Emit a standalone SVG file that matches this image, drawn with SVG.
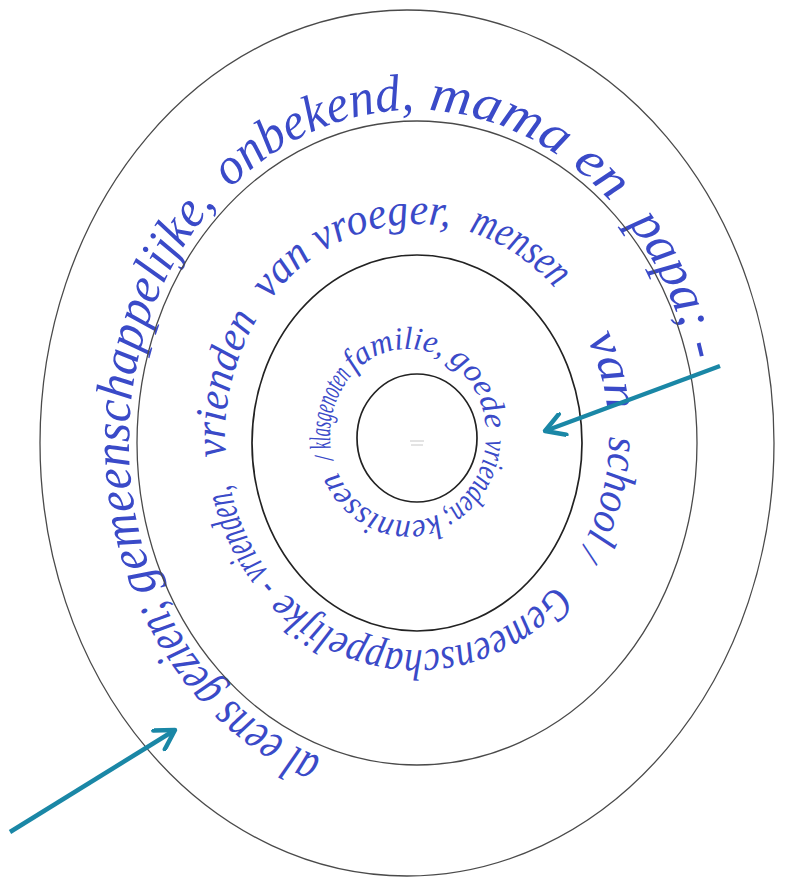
<svg xmlns="http://www.w3.org/2000/svg" xmlns:xlink="http://www.w3.org/1999/xlink" width="790" height="880" viewBox="0 0 790 880">
  <style>
    .ring { fill: none; stroke: #4a4a4a; stroke-width: 1.3; }
    .ring-dark { fill: none; stroke: #222; stroke-width: 1.7; }
    .hw { font-family: "Liberation Serif", "DejaVu Serif", serif; font-style: italic; fill: #3a4ac8; }
    .arrow { stroke: #1a87a6; stroke-width: 4.5; fill: none; }
  </style>
  <defs>
    <path id="pOuter" d="M414,776 A285,333 0 1 1 414,110 A285,333 0 1 1 414,776"/>
    <path id="pMid" d="M564.1,573.9 A192,213 0 1 1 269.9,300.1 A192,213 0 1 1 564.1,573.9"/>
    <path id="pInner" d="M486,435 A78,86 0 1 1 330,435 A78,86 0 1 1 486,435"/>
    <marker id="head" viewBox="0 0 10 10" refX="9" refY="5" markerUnits="userSpaceOnUse" markerWidth="25" markerHeight="25" orient="auto">
      <path d="M1.5,0.6 L9,5 L1.5,9.4" fill="none" stroke="#1a87a6" stroke-width="1.8" stroke-linecap="round" stroke-linejoin="round"/>
    </marker>
  </defs>
  <rect width="790" height="880" fill="#ffffff"/>

  <g id="ring-outer">
    <ellipse class="ring" cx="407" cy="443" rx="367" ry="433"/>
    <text class="hw" font-size="52">
      <textPath xlink:href="#pOuter" startOffset="95" textLength="232" lengthAdjust="spacingAndGlyphs">al eens gezien;</textPath>
    </text>
    <text class="hw" font-size="52">
      <textPath xlink:href="#pOuter" startOffset="336" textLength="410" lengthAdjust="spacingAndGlyphs">gemeenschappelijke,</textPath>
    </text>
    <text class="hw" font-size="52">
      <textPath xlink:href="#pOuter" startOffset="767" textLength="205" lengthAdjust="spacingAndGlyphs">onbekend,</textPath>
    </text>
    <text class="hw" font-size="52">
      <textPath xlink:href="#pOuter" startOffset="986" textLength="210" lengthAdjust="spacingAndGlyphs">mama en</textPath>
    </text>
    <text class="hw" font-size="52">
      <textPath xlink:href="#pOuter" startOffset="1223" textLength="152" lengthAdjust="spacingAndGlyphs">papa; -</textPath>
    </text>
  </g>

  <g id="ring-second">
    <ellipse class="ring" cx="417" cy="443" rx="280" ry="322"/>
    <text class="hw" font-size="44">
      <textPath xlink:href="#pMid" startOffset="14" textLength="306" lengthAdjust="spacingAndGlyphs">Gemeenschappelijke</textPath>
    </text>
    <text class="hw" font-size="42">
      <textPath xlink:href="#pMid" startOffset="330" textLength="112" lengthAdjust="spacingAndGlyphs">- vrienden,</textPath>
    </text>
    <text class="hw" font-size="44">
      <textPath xlink:href="#pMid" startOffset="470" textLength="144" lengthAdjust="spacingAndGlyphs">vrienden</textPath>
    </text>
    <text class="hw" font-size="44">
      <textPath xlink:href="#pMid" startOffset="636" textLength="205" lengthAdjust="spacingAndGlyphs">van vroeger,</textPath>
    </text>
    <text class="hw" font-size="44">
      <textPath xlink:href="#pMid" startOffset="860" textLength="105" lengthAdjust="spacingAndGlyphs">mensen</textPath>
    </text>
    <text class="hw" font-size="48">
      <textPath xlink:href="#pMid" startOffset="1024" textLength="76" lengthAdjust="spacingAndGlyphs">van</textPath>
    </text>
    <text class="hw" font-size="44">
      <textPath xlink:href="#pMid" startOffset="1126" textLength="104" lengthAdjust="spacingAndGlyphs">school</textPath>
    </text>
    <text class="hw" font-size="34">
      <textPath xlink:href="#pMid" startOffset="1238">/</textPath>
    </text>
  </g>

  <g id="ring-third">
    <ellipse class="ring-dark" cx="417" cy="443" rx="165" ry="188"/>
    <text class="hw" font-size="32">
      <textPath xlink:href="#pInner" startOffset="4" textLength="90" lengthAdjust="spacingAndGlyphs">vrienden;</textPath>
    </text>
    <text class="hw" font-size="34">
      <textPath xlink:href="#pInner" startOffset="98" textLength="122" lengthAdjust="spacingAndGlyphs">kennissen</textPath>
    </text>
    <text class="hw" font-size="26">
      <textPath xlink:href="#pInner" startOffset="232">/</textPath>
    </text>
    <text class="hw" font-size="30">
      <textPath xlink:href="#pInner" startOffset="244" textLength="78" lengthAdjust="spacingAndGlyphs">klasgenoten</textPath>
    </text>
    <text class="hw" font-size="32">
      <textPath xlink:href="#pInner" startOffset="326" textLength="95" lengthAdjust="spacingAndGlyphs">familie,</textPath>
    </text>
    <text class="hw" font-size="32">
      <textPath xlink:href="#pInner" startOffset="428" textLength="81" lengthAdjust="spacingAndGlyphs">goede</textPath>
    </text>
  </g>

  <g id="ring-inner">
    <ellipse class="ring-dark" cx="417" cy="438" rx="60" ry="64"/>
    <g stroke="#c8c8c8" stroke-width="1" fill="none">
      <path d="M410,441 L424,441 M411,445 L423,445"/>
    </g>
  </g>

  <g id="connectors">
    <line class="arrow" x1="720" y1="366" x2="545" y2="431" marker-end="url(#head)"/>
    <line class="arrow" x1="10" y1="832" x2="175" y2="730" marker-end="url(#head)"/>
  </g>
</svg>
